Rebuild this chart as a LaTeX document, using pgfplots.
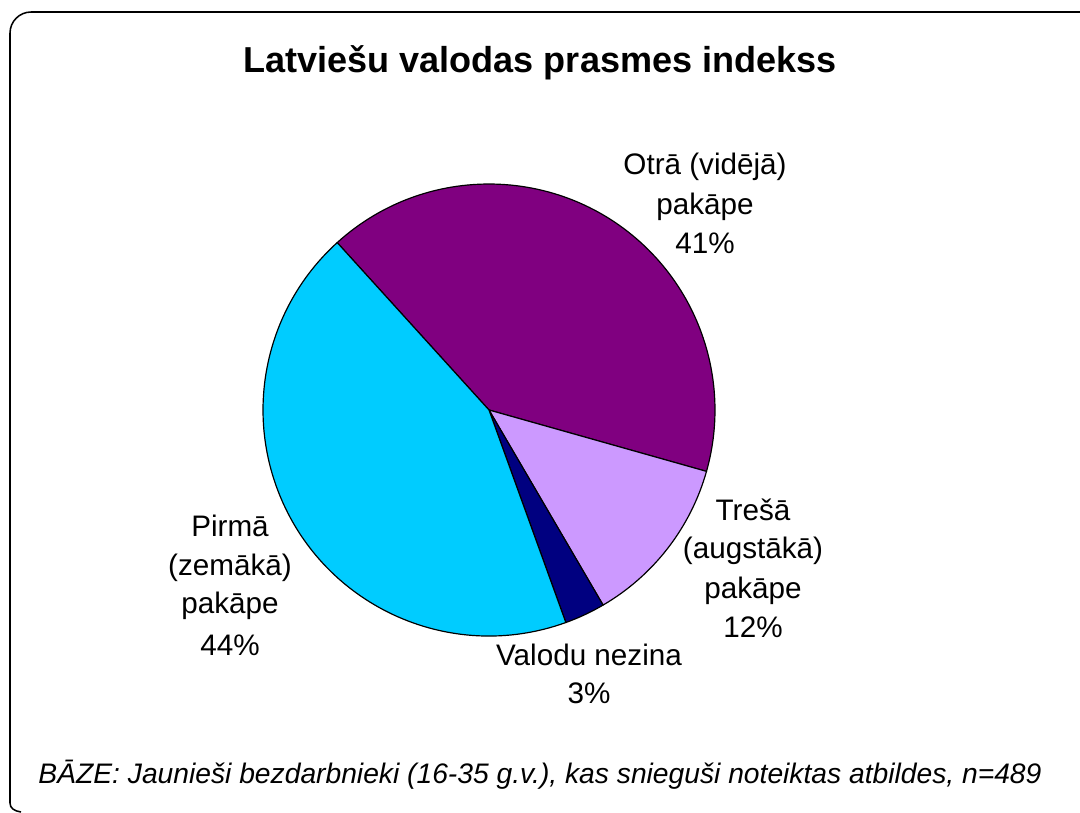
\documentclass[border=0pt]{standalone}
\usepackage{fontspec}
\setmainfont{Liberation Sans}
\usepackage{pgfplots}
\usepackage{pgfplotstable}
\pgfplotsset{compat=1.18}
\definecolor{cOtra}{HTML}{800080}
\definecolor{cTresa}{HTML}{CC99FF}
\definecolor{cNezina}{HTML}{000080}
\definecolor{cPirma}{HTML}{00CCFF}

% slice shares in %, clockwise from the first edge
\pgfplotstableread{
value col
41.1 cOtra
12.2 cTresa
2.9 cNezina
43.8 cPirma
}\piedata

\newcommand{\lbl}{\fontsize{12.5}{15}\selectfont}
\begin{document}
\begin{tikzpicture}
\path[use as bounding box] (0,0) rectangle (16cm,12.0296cm);
\clip (0,0) rectangle (16cm,12.0296cm);
\begin{axis}[at={(0,0)}, anchor=south west, scale only axis, width=16cm, height=12.0296cm,
    xmin=0, xmax=1080, ymin=0, ymax=812, hide axis, clip=false]
% frame (runs on past the right and bottom edges)
\draw[line width=0.65pt, rounded corners=8.9pt] (axis cs:1080,800) -- (axis cs:10,800) -- (axis cs:10,20);
\draw[line width=0.65pt] (axis cs:10,20.5) -- (axis cs:10,9) .. controls (axis cs:10,4) and (axis cs:14,1) .. (axis cs:21,0);
% slices
\def\angA{132.2}
\def\rad{95.26pt}
\pgfplotsforeachungrouped \i in {0,1,2,3}{%
  \pgfplotstablegetelem{\i}{value}\of\piedata \let\slv\pgfplotsretval
  \pgfplotstablegetelem{\i}{col}\of\piedata \let\slc\pgfplotsretval
  \pgfmathsetmacro\angB{\angA-3.6*\slv}
  \edef\temp{\noexpand\filldraw[fill=\slc, draw=black, line width=0.5pt, line join=round]
    (axis cs:489,402) -- ([shift={(\angA:\rad)}]axis cs:489,402)
    arc[start angle=\angA, end angle=\angB, radius=\rad] -- cycle;}
  \temp
  \global\let\angA\angB
}
% texts
\node[anchor=base, font=\fontsize{15.2}{18}\selectfont\bfseries] at (axis cs:540,739) {Latviešu valodas prasmes indekss};
\node[anchor=base, font=\lbl] at (axis cs:705,637) {Otrā (vidējā)};
\node[anchor=base, font=\lbl] at (axis cs:705,597) {pakāpe};
\node[anchor=base, font=\lbl] at (axis cs:705,558) {41\%};
\node[anchor=base, font=\lbl] at (axis cs:753,292) {Trešā};
\node[anchor=base, font=\lbl] at (axis cs:753,254) {(augstākā)};
\node[anchor=base, font=\lbl] at (axis cs:753,214) {pakāpe};
\node[anchor=base, font=\lbl] at (axis cs:753,175) {12\%};
\node[anchor=base, font=\lbl] at (axis cs:230,276) {Pirmā};
\node[anchor=base, font=\lbl] at (axis cs:230,237) {(zemākā)};
\node[anchor=base, font=\lbl] at (axis cs:230,199) {pakāpe};
\node[anchor=base, font=\lbl] at (axis cs:230,157) {44\%};
\node[anchor=base, font=\lbl] at (axis cs:589,147) {Valodu nezina};
\node[anchor=base, font=\lbl] at (axis cs:589,109) {3\%};
\node[anchor=base, font=\fontsize{11.9}{14}\selectfont\itshape] at (axis cs:540,29) {BĀZE: Jaunieši bezdarbnieki (16-35 g.v.), kas snieguši noteiktas atbildes, n=489};
\end{axis}
\end{tikzpicture}
\end{document}
